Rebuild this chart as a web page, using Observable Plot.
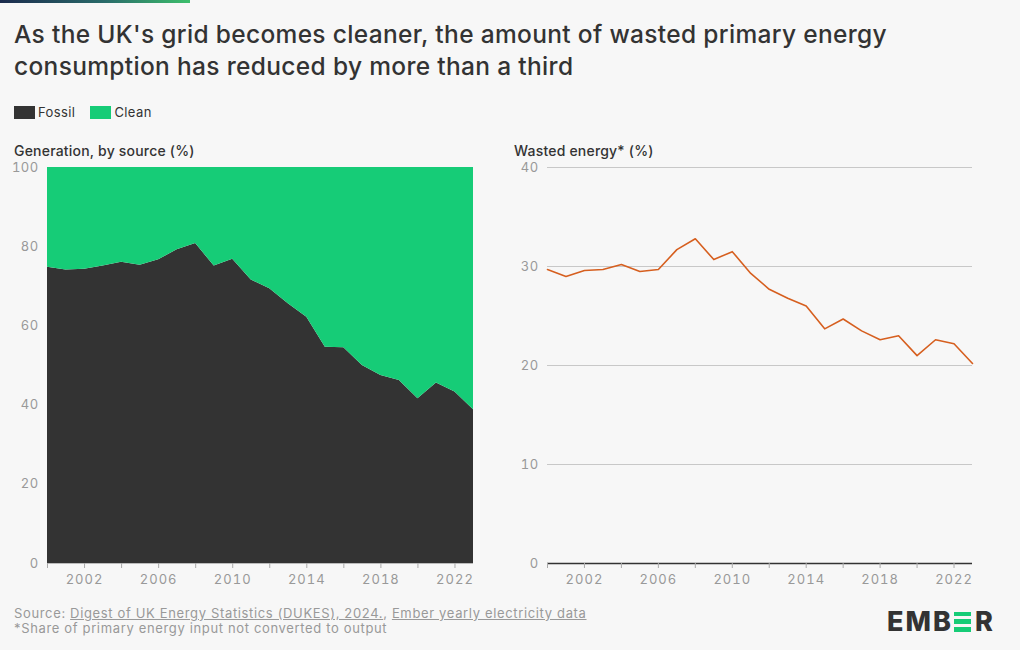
<!DOCTYPE html>
<html>
<head>
<meta charset="utf-8">
<script src="https://cdn.jsdelivr.net/npm/d3@7"></script>
<script src="https://cdn.jsdelivr.net/npm/@observablehq/plot@0.6"></script>
<style>
  html, body { margin: 0; padding: 0; background: #f7f7f7; }
  body { width: 1020px; height: 650px; position: relative; overflow: hidden; font-family: Inter, "Noto Sans", sans-serif; color: #333; }
  #bar { position: absolute; left: 0; top: 0; width: 190px; height: 3px; background: linear-gradient(90deg, #1b2b4d, #2a6b6a 55%, #3dbf6c); }
  #title { position: absolute; left: 14px; top: 18px; font-size: 24.5px; line-height: 32px; font-weight: 500; color: #333; letter-spacing: 0.33px; }
  #legend { position: absolute; left: 14px; top: 104px; font-size: 13px; color: #333; display: flex; align-items: center; letter-spacing: 0.4px; }
  .sw { display: inline-block; width: 21px; height: 13px; margin-right: 3px; }
  .item { display: flex; align-items: center; margin-right: 15px; }
  .sub { position: absolute; top: 142px; font-size: 14px; font-weight: 500; color: #333; letter-spacing: 0.2px; }
  #left { position: absolute; left: 0; top: 160px; }
  #right { position: absolute; left: 500px; top: 160px; }
  #foot { position: absolute; left: 14px; top: 606px; font-size: 13px; line-height: 15px; color: #999; letter-spacing: 0.65px; }
  #foot u { text-decoration: underline; }
  #logo { position: absolute; left: 887px; top: 605px; font-size: 27px; font-weight: 800; color: #333; letter-spacing: 2px; display: flex; align-items: center; font-family: Inter, sans-serif; }
  .ebar { display: inline-flex; flex-direction: column; justify-content: space-between; height: 20px; width: 17px; margin: 0 4px 0 1px; }
  .ebar span { display: block; height: 4.5px; background: #16cc77; }
  g[aria-label="x-axis tick label"] text { letter-spacing: 1px; }
  g[aria-label="y-axis tick label"] text { letter-spacing: 0.4px; }
</style>
</head>
<body>
<div id="bar"></div>
<div id="title">As the UK's grid becomes cleaner, the amount of wasted primary energy<br>consumption has reduced by more than a third</div>
<div id="legend">
  <div class="item"><span class="sw" style="background:#333333"></span>Fossil</div>
  <div class="item"><span class="sw" style="background:#16cc77"></span>Clean</div>
</div>
<div class="sub" style="left:14px">Generation, by source (%)</div>
<div class="sub" style="left:514px">Wasted energy* (%)</div>
<div id="left"></div>
<div id="right"></div>
<div id="foot">Source: <u>Digest of UK Energy Statistics (DUKES), 2024.</u>, <u>Ember yearly electricity data</u><br>*Share of primary energy input not converted to output</div>
<div id="logo">EMB<span class="ebar"><span></span><span></span><span></span></span>R</div>
<script>
const years = [2000,2001,2002,2003,2004,2005,2006,2007,2008,2009,2010,2011,2012,2013,2014,2015,2016,2017,2018,2019,2020,2021,2022,2023];
const fossil = [74.8,74.1,74.3,75.1,76.1,75.3,76.7,79.2,80.8,75.1,76.8,71.6,69.4,65.6,62.2,54.6,54.5,50.0,47.5,46.2,41.6,45.6,43.3,38.8];
const clean  = [25.2,25.9,25.7,24.9,23.9,24.7,23.3,20.8,19.2,24.9,23.2,28.4,30.6,34.4,37.8,45.4,45.5,50.0,52.5,53.8,58.4,54.4,56.7,61.2];
const wasted = [29.7,29.0,29.6,29.7,30.2,29.5,29.7,31.7,32.8,30.7,31.5,29.3,27.7,26.8,26.0,23.7,24.7,23.5,22.6,23.0,21.0,22.6,22.2,20.2];
const sources = ["Fossil","Clean"];
const colors = ["#333333","#16cc77"];
const genTicks = [0,20,40,60,80,100];
const wasteTicks = [0,10,20,30,40];
const xTicks = [2000,2002,2004,2006,2008,2010,2012,2014,2016,2018,2020,2022];
const xLabelYears = [2002,2006,2010,2014,2018,2022];

const gen = [];
years.forEach((y,i) => { gen.push({year:y, source:"Fossil", value:fossil[i]}); gen.push({year:y, source:"Clean", value:clean[i]}); });
const waste = years.map((y,i) => ({year:y, value:wasted[i]}));

const common = {
  width: 500, height: 435, marginTop: 7, marginBottom: 32, marginLeft: 47,
  style: {background: "transparent", fontFamily: "Inter, 'Noto Sans', sans-serif", fontSize: "13px", color: "#999", overflow: "visible"}
};
const xAxis = Plot.axisX({ticks: xTicks, tickFormat: d => xLabelYears.includes(d) ? String(d) : "", tickSize: 5, tickPadding: 6, stroke: "#aaa", fill: "#999", label: null});

const left = Plot.plot({
  ...common, marginRight: 27,
  x: {domain: [2000, 2023]},
  y: {domain: [0, 100]},
  color: {domain: sources, range: colors},
  marks: [
    Plot.areaY(gen, {x: "year", y: "value", fill: "source", order: sources}),
    Plot.ruleY([0], {stroke: "#bbb"}),
    Plot.axisY({ticks: genTicks, tickSize: 0, tickPadding: 9, fill: "#999", label: null}),
    xAxis
  ]
});
document.getElementById("left").append(left);

const right = Plot.plot({
  ...common, marginRight: 28,
  x: {domain: [2000, 2023]},
  y: {domain: [0, 40]},
  marks: [
    Plot.gridY(wasteTicks.filter(d => d > 0), {stroke: "#c8c8c8", strokeOpacity: 1}),
    Plot.ruleY([0], {stroke: "#333", strokeWidth: 1.5}),
    Plot.line(waste, {x: "year", y: "value", stroke: "#d65f1f", strokeWidth: 1.6}),
    Plot.axisY({ticks: wasteTicks, tickSize: 0, tickPadding: 9, fill: "#999", label: null}),
    xAxis
  ]
});
document.getElementById("right").append(right);
</script>
</body>
</html>
